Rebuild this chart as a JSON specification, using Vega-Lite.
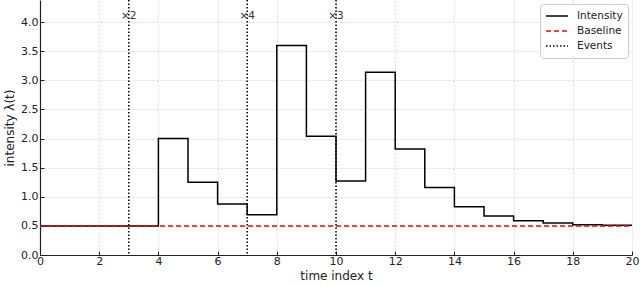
{
  "$schema": "https://vega.github.io/schema/vega-lite/v6.json",
  "width": 592,
  "height": 255,
  "autosize": {"type": "none"},
  "padding": {"left": 40, "top": 0, "right": 8, "bottom": 31},
  "config": {
    "font": "DejaVu Sans",
    "view": {"stroke": null},
    "axis": {
      "labelFont": "DejaVu Sans",
      "titleFont": "DejaVu Sans",
      "labelFontSize": 11,
      "titleFontSize": 12,
      "titleFontWeight": "normal",
      "labelColor": "#222",
      "titleColor": "#222",
      "domainColor": "#222",
      "domainWidth": 1.2,
      "tickColor": "#222",
      "tickSize": -4,
      "labelOverlap": false,
      "labelFlush": false,
      "grid": true,
      "gridColor": "#d0d0d0",
      "gridDash": [2, 2],
      "gridWidth": 0.8
    }
  },
  "datasets": {
    "steps": [
      {"series": "Intensity", "t": 0, "v": 0.5},
      {"series": "Intensity", "t": 1, "v": 0.5},
      {"series": "Intensity", "t": 2, "v": 0.5},
      {"series": "Intensity", "t": 3, "v": 0.5},
      {"series": "Intensity", "t": 4, "v": 2.0},
      {"series": "Intensity", "t": 5, "v": 1.25},
      {"series": "Intensity", "t": 6, "v": 0.875},
      {"series": "Intensity", "t": 7, "v": 0.69},
      {"series": "Intensity", "t": 8, "v": 3.6},
      {"series": "Intensity", "t": 9, "v": 2.04},
      {"series": "Intensity", "t": 10, "v": 1.27},
      {"series": "Intensity", "t": 11, "v": 3.14},
      {"series": "Intensity", "t": 12, "v": 1.82},
      {"series": "Intensity", "t": 13, "v": 1.16},
      {"series": "Intensity", "t": 14, "v": 0.83},
      {"series": "Intensity", "t": 15, "v": 0.67},
      {"series": "Intensity", "t": 16, "v": 0.59},
      {"series": "Intensity", "t": 17, "v": 0.55},
      {"series": "Intensity", "t": 18, "v": 0.52},
      {"series": "Intensity", "t": 19, "v": 0.51},
      {"series": "Intensity", "t": 20, "v": 0.51}
    ],
    "baseline": [
      {"series": "Baseline", "t": 0, "v": 0.5},
      {"series": "Baseline", "t": 20, "v": 0.5}
    ],
    "events": [
      {"series": "Events", "t": 3, "label": "×2", "ly": 4.1},
      {"series": "Events", "t": 7, "label": "×4", "ly": 4.1},
      {"series": "Events", "t": 10, "label": "×3", "ly": 4.1}
    ]
  },
  "layer": [
    {
      "data": {"name": "steps"},
      "mark": {"type": "line", "interpolate": "step-after", "strokeWidth": 1.5, "clip": true},
      "encoding": {
        "x": {"field": "t", "type": "quantitative", "scale": {"domain": [0, 20], "nice": false}, "axis": {"values": [0,2,4,6,8,10,12,14,16,18,20], "title": "time index t", "labelPadding": 4, "titlePadding": 4, "labelOverlap": false}},
        "y": {"field": "v", "type": "quantitative", "scale": {"domain": [0, 4.38], "nice": false}, "axis": {"values": [0,0.5,1,1.5,2,2.5,3,3.5,4], "tickCount": 9, "format": ".1f", "title": "intensity λ(t)", "labelPadding": 6, "titlePadding": 4, "labelOverlap": false}},
        "color": {"field": "series", "type": "nominal", "scale": {"domain": ["Intensity", "Baseline", "Events"], "range": ["#000000", "#ff0000", "#000000"]}, "legend": {"title": null, "orient": "top-right", "offset": 4, "symbolType": "stroke", "symbolStrokeWidth": 1.5, "symbolSize": 480, "clipHeight": 14, "labelFontSize": 10.5, "labelFont": "DejaVu Sans", "labelColor": "#222", "fillColor": "white", "strokeColor": "#cccccc", "padding": 5, "cornerRadius": 3, "rowPadding": 1, "labelOffset": 8}},
        "strokeDash": {"field": "series", "type": "nominal", "scale": {"domain": ["Intensity", "Baseline", "Events"], "range": [[1, 0], [5, 3], [1.5, 2]]}, "legend": null}
      }
    },
    {
      "data": {"name": "baseline"},
      "mark": {"type": "line", "strokeWidth": 1.5},
      "encoding": {
        "x": {"field": "t", "type": "quantitative"},
        "y": {"field": "v", "type": "quantitative"},
        "color": {"field": "series", "type": "nominal"},
        "strokeDash": {"field": "series", "type": "nominal"}
      }
    },
    {
      "data": {"name": "events"},
      "mark": {"type": "rule", "strokeWidth": 1.5},
      "encoding": {
        "x": {"field": "t", "type": "quantitative"},
        "color": {"field": "series", "type": "nominal"},
        "strokeDash": {"field": "series", "type": "nominal"}
      }
    },
    {
      "data": {"name": "events"},
      "mark": {"type": "text", "fontSize": 10.5, "color": "#333", "align": "center", "baseline": "middle"},
      "encoding": {
        "x": {"field": "t", "type": "quantitative"},
        "y": {"field": "ly", "type": "quantitative"},
        "text": {"field": "label"}
      }
    }
  ]
}
